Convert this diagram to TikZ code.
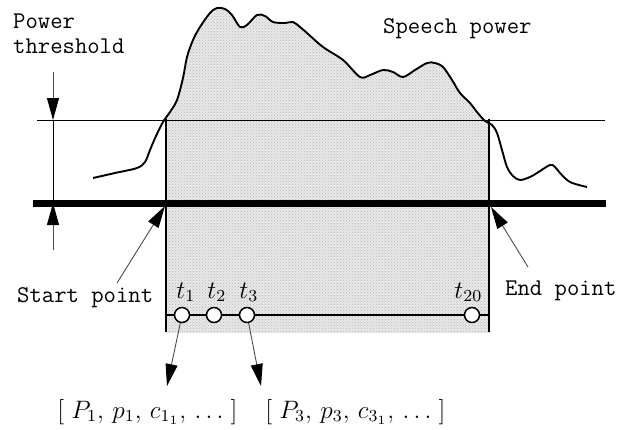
\documentclass[tikz,border=0pt]{standalone}
\usepackage{fontspec}
\usetikzlibrary{arrows.meta,patterns}
\tikzset{
  lbl/.style={font=\ttfamily\fontsize{24}{25}\selectfont,inner sep=0pt,anchor=base west},
  mlbl/.style={font=\fontsize{12}{14}\selectfont,scale=2.1,transform shape,inner sep=0pt,anchor=base west},
  flbl/.style={font=\fontsize{12}{14}\selectfont,scale=2.1,transform shape,inner sep=0pt,anchor=base west},
  arr/.style={-{Triangle[length=22pt,width=12pt,black]},line width=0.9pt,black!70},
  tdot/.style={circle,draw,fill=white,line width=1.5pt,inner sep=0pt,minimum size=15pt},
  power/.style={line width=1.9pt,line join=round},
  shade/.style={fill=black!9,postaction={pattern=crosshatch dots,pattern color=black!28}}
}
\begin{document}
\begin{tikzpicture}[x=1pt,y=-1pt]
\useasboundingbox (0,0) rectangle (618,429);
% shaded speech region
\begin{scope}
\clip (166,0) rectangle (490,332);
\path[shade] plot[smooth,tension=0.55] coordinates {(93,178) (115,173) (137,168) (145,162) (150,150) (156,136) (163,122) (170,112) (177,100) (183,78) (187,57) (193,40) (200,27) (210,13) (217,8) (225,9) (232,15) (240,27) (247,25) (257,15) (265,16) (273,22) (285,23) (293,22) (300,27) (307,33) (323,47) (343,60) (360,77) (370,75) (383,70) (393,72) (403,77) (415,70) (427,63) (435,63) (443,67) (452,80) (460,93) (470,103) (477,112) (485,121) (492,125) (497,133) (502,150) (507,167) (513,176) (520,180) (530,177) (537,173) (550,165) (555,167) (560,173) (570,182) (587,187)} -- (587,340) -- (93,340) -- cycle;
\end{scope}
% threshold and base lines
\coordinate (thrL) at (37,120);
\coordinate (thrR) at (605,120);
\coordinate (baseL) at (33,203);
\coordinate (baseR) at (606,203);
\draw[line width=1pt] (thrL) -- (thrR);
\draw[line width=7pt] (baseL) -- (baseR);
% start and end edges
\coordinate (sTop) at (166,119);
\coordinate (sBot) at (166,332);
\coordinate (eTop) at (489,119);
\coordinate (eBot) at (489,332);
\draw[line width=1.6pt] (sTop) -- (sBot);
\draw[line width=2.2pt] (eTop) -- (eBot);
% speech power curve
\draw[power] plot[smooth,tension=0.55] coordinates {(93,178) (115,173) (137,168) (145,162) (150,150) (156,136) (163,122) (170,112) (177,100) (183,78) (187,57) (193,40) (200,27) (210,13) (217,8) (225,9) (232,15) (240,27) (247,25) (257,15) (265,16) (273,22) (285,23) (293,22) (300,27) (307,33) (323,47) (343,60) (360,77) (370,75) (383,70) (393,72) (403,77) (415,70) (427,63) (435,63) (443,67) (452,80) (460,93) (470,103) (477,112) (485,121) (492,125) (497,133) (502,150) (507,167) (513,176) (520,180) (530,177) (537,173) (550,165) (555,167) (560,173) (570,182) (587,187)};
% threshold marker
\coordinate (mTop) at (53,72);
\coordinate (mHi) at (53,120);
\coordinate (mLo) at (53,203);
\coordinate (mBot) at (53,250);
\draw[line width=1pt] (mHi) -- (mLo);
\draw[arr] (mTop) -- (mHi);
\draw[arr] (mBot) -- (mLo);
% labels
\node[lbl] (pw) at (13,28) {Power};
\node[lbl] (thr) at (13,53) {threshold};
\node[lbl] (spw) at (383,33) {Speech power};
\node[lbl] (start) at (17,302) {Start point};
\node[lbl] (endp) at (505,295) {End point};
\coordinate (sFrom) at (117,283);
\coordinate (sTip) at (165,206);
\coordinate (eFrom) at (528,267);
\coordinate (eTip) at (491,207);
\draw[arr] (sFrom) -- (sTip);
\draw[arr] (eFrom) -- (eTip);
% frame time line
\coordinate (lnL) at (166,315);
\coordinate (lnR) at (489,315);
\node[tdot] (c1) at (182,315) {};
\node[tdot] (c2) at (214,315) {};
\node[tdot] (c3) at (247,315) {};
\node[tdot] (c20) at (472,315) {};
\draw[line width=1.3pt] (lnL) -- (c1) -- (c2) -- (c3) -- (c20) -- (lnR);
\node[mlbl] (t1) at (176,298) {$t_1$};
\node[mlbl] (t2) at (207,298) {$t_2$};
\node[mlbl] (t3) at (239,298) {$t_3$};
\node[mlbl] (t20) at (454,298) {$t_{20}$};
% feature vectors
\node[flbl] (f1) at (57,418) {$[\;P_1,\,p_1,\,c_{1_1},\,\ldots\;]$};
\node[flbl] (f3) at (265,418) {$[\;P_3,\,p_3,\,c_{3_1},\,\ldots\;]$};
\coordinate (f1tip) at (167,386);
\coordinate (f3tip) at (261,386);
\draw[arr] (c1) -- (f1tip);
\draw[arr] (c3) -- (f3tip);
\end{tikzpicture}
\end{document}
